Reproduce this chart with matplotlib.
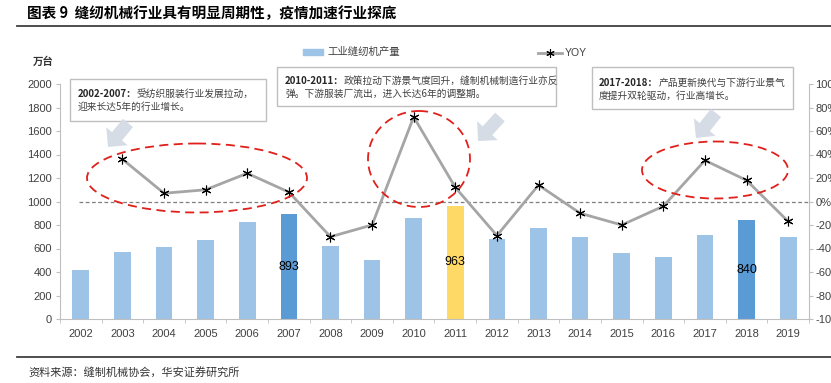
import matplotlib
matplotlib.use("Agg")
import matplotlib.pyplot as plt
from matplotlib.patches import Rectangle, Ellipse, FancyArrow
from matplotlib.lines import Line2D
import numpy as np

plt.rcParams['font.family'] = ['Liberation Sans', 'Noto Sans CJK SC', 'DejaVu Sans']
CJK = ['Noto Sans CJK SC', 'DejaVu Sans']

# ---------------- data ----------------
years = ['2002', '2003', '2004', '2005', '2006', '2007', '2008', '2009', '2010',
         '2011', '2012', '2013', '2014', '2015', '2016', '2017', '2018', '2019']
production = [417, 567, 610, 670, 828, 893, 624, 500, 857,
              963, 683, 774, 698, 559, 528, 712, 840, 700]
yoy = [np.nan, 36, 7, 10, 24, 8, -30, -20, 72,
       12, -29, 14, -10, -20, -4, 35, 18, -17]
highlight = {'2007': '#5B9BD5', '2011': '#FFD966', '2018': '#5B9BD5'}
labeled = ['2007', '2011', '2018']
left_ticks = list(range(0, 2001, 200))
right_ticks = list(range(-100, 101, 20))

title = '图表 9  缝纫机械行业具有明显周期性，疫情加速行业探底'
unit = '万台'
legend_bar = '工业缝纫机产量'
legend_line = 'YOY'
source = '资料来源：缝制机械协会，华安证券研究所'
notes = [
    ('2002-2007：', ['受纺织服装行业发展拉动，', '迎来长达5年的行业增长。']),
    ('2010-2011：', ['政策拉动下游景气度回升，缝制机械制造行业亦反', '弹。下游服装厂流出，进入长达6年的调整期。']),
    ('2017-2018：', ['产品更新换代与下游行业景气', '度提升双轮驱动，行业高增长。']),
]

# ---------------- figure ----------------
W, H = 831, 383
fig = plt.figure(figsize=(W / 100, H / 100), dpi=100)
ax = fig.add_axes([60 / W, (H - 319) / H, 749 / W, 235 / H])
ax2 = ax.twinx()

x = np.arange(len(years))
colors = [highlight.get(y, '#9DC3E6') for y in years]
ax.bar(x, production, width=0.4, color=colors, zorder=2)
for i, y in enumerate(years):
    if y in labeled:
        ax.text(i, production[i] / 2, str(production[i]), ha='center', va='center',
                fontsize=9, color='black', zorder=3)

ax.set_xlim(-0.5, len(years) - 0.5)
ax.set_ylim(0, 2000)
ax.set_yticks(left_ticks)
ax.set_xticks(x)
ax.set_xticklabels(years)
ax.set_xticks(np.arange(-0.5, len(years), 1), minor=True)
ax.tick_params(axis='x', which='major', length=0, pad=7, labelsize=8, colors='#404040')
ax.tick_params(axis='x', which='minor', length=3, color='#BFBFBF')
ax.tick_params(axis='y', length=3, color='#BFBFBF', labelsize=8, labelcolor='#404040', pad=3)
for s in ['top', 'right']:
    ax.spines[s].set_visible(False)
for s in ['left', 'bottom']:
    ax.spines[s].set_color('#BFBFBF')

ax2.plot(x, yoy, color='#A5A5A5', lw=2, zorder=3)
ax2.plot(x, yoy, linestyle='none', marker=(6, 2, 0), markersize=7,
         markeredgecolor='black', markeredgewidth=0.8, zorder=4)
ax2.hlines(0, -0.05, len(years) - 0.5, colors='#7F7F7F', linestyles=(0, (3, 2)), lw=0.9, zorder=1)
ax2.set_ylim(-100, 100)
ax2.set_yticks(right_ticks)
ax2.set_yticklabels([f'{t}%' for t in right_ticks])
ax2.tick_params(axis='y', length=3, color='#BFBFBF', labelsize=8, labelcolor='#404040', pad=1.5)
for s in ['top', 'left', 'bottom']:
    ax2.spines[s].set_visible(False)
ax2.spines['right'].set_color('#BFBFBF')

# ---------------- overlay (pixel coordinates) ----------------
ov = fig.add_axes([0, 0, 1, 1], zorder=10)
ov.set_xlim(0, W)
ov.set_ylim(H, 0)
ov.axis('off')
ov.patch.set_alpha(0)

ov.text(27, 13, title, fontsize=10.5, fontweight='bold', family=CJK, va='center', ha='left')
ov.plot([17, W], [26, 26], color='#404040', lw=1.3)
ov.plot([17, W], [357, 357], color='#404040', lw=1.3)
ov.text(28, 372, source, fontsize=8, family=CJK, va='center', ha='left', color='#333333')
ov.text(33, 62, unit, fontsize=7.5, fontweight='bold', family=CJK, va='center', ha='left', color='#333333')

# legend
ov.add_patch(Rectangle((303, 49), 20, 6, color='#9DC3E6'))
ov.text(327, 52, legend_bar, fontsize=7.5, family=CJK, va='center', ha='left', color='#404040')
ov.add_line(Line2D([538, 562], [53, 53], color='#A5A5A5', lw=2))
ov.plot([550], [53], marker=(6, 2, 0), markersize=6, markeredgecolor='black', markeredgewidth=0.8)
ov.text(565, 53, legend_line, fontsize=7.5, va='center', ha='left', color='#404040')

# annotation boxes
boxes = [(70, 79, 196, 42, 78, 94), (277, 67, 279, 39, 285, 81), (592, 67, 201, 42, 599, 83)]
fig.canvas.draw()
renderer = fig.canvas.get_renderer()
inv = ov.transData.inverted()
for (bx, by, bw, bh, tx, ty), (bold, lines) in zip(boxes, notes):
    ov.add_patch(Rectangle((bx, by), bw, bh, facecolor='white', edgecolor='#BFBFBF', lw=1))
    t = ov.text(tx, ty, bold, fontsize=7, fontweight='bold', family=CJK, va='center', ha='left',
                color='#262626')
    ext = t.get_window_extent(renderer=renderer)
    xr = inv.transform((ext.x1, ext.y0))[0]
    ov.text(xr, ty, lines[0], fontsize=7, family=CJK, va='center', ha='left', color='#404040')
    ov.text(tx, ty + 12.5, lines[1], fontsize=7, family=CJK, va='center', ha='left', color='#404040')

# arrows
arrow_col = '#D6DCE5'
for (x0, y0, dx, dy) in [(128, 123, -20, 24), (500, 117, -22, 24), (716, 113, -20, 25)]:
    ov.add_patch(FancyArrow(x0, y0, dx, dy, width=13, head_width=28, head_length=14,
                            length_includes_head=True, color=arrow_col, lw=0))

# ellipses
for (cx, cy, ew, eh) in [(197, 178, 220, 69), (419, 159, 102, 96), (715, 170, 146, 57)]:
    ov.add_patch(Ellipse((cx, cy), ew, eh, fill=False, edgecolor='#E0201B', lw=1.3,
                         linestyle=(0, (5, 3))))

fig.savefig('out.png', dpi=100)
